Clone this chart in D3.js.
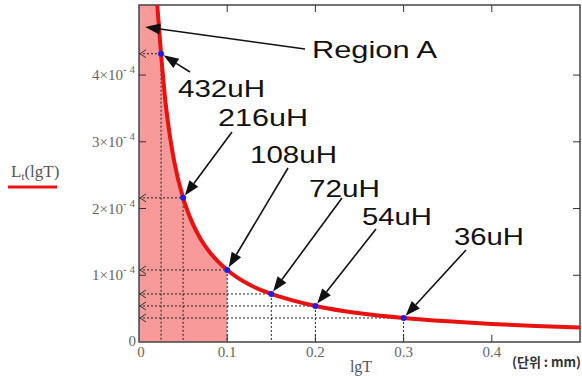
<!DOCTYPE html>
<html>
<head>
<meta charset="utf-8">
<script src="https://d3js.org/d3.v7.min.js"></script>
<style>
  body { margin: 0; background: #fff; }
  .ann { font-family: "Liberation Sans", Arial, sans-serif; font-size: 24px; fill: #111; }
  .tick-lbl { font-family: "Liberation Serif", serif; font-size: 15px; fill: #666; }
</style>
</head>
<body>
<svg width="582" height="380"></svg>
<script>
// curve L_t(lgT)
var curveT = [0.0207, 0.025, 0.03, 0.035, 0.04, 0.05, 0.06, 0.07, 0.08, 0.09, 0.1, 0.125, 0.15, 0.175, 0.2, 0.25, 0.3, 0.35, 0.4, 0.45, 0.5];
var curveL = [5.2e-4, 4.32e-4, 3.6e-4, 3.09e-4, 2.7e-4, 2.16e-4, 1.8e-4, 1.54e-4, 1.35e-4, 1.2e-4, 1.08e-4, 0.86e-4, 0.72e-4, 0.62e-4, 0.54e-4, 0.43e-4, 0.36e-4, 0.31e-4, 0.27e-4, 0.24e-4, 0.216e-4];
// marked points
var pointT = [0.025, 0.05, 0.1, 0.15, 0.2, 0.3];
var pointL = [4.32e-4, 2.16e-4, 1.08e-4, 0.72e-4, 0.54e-4, 0.36e-4];
var pointLabels = ["432uH", "216uH", "108uH", "72uH", "54uH", "36uH"];
var xTicks = [0, 0.1, 0.2, 0.3, 0.4];
var yTicks = [0, 1e-4, 2e-4, 3e-4, 4e-4];
var regionT = [0, 0.1];

var svg = d3.select("svg");
var x = d3.scaleLinear().domain([0, 0.5]).range([139, 580]);
var y = d3.scaleLinear().domain([0, 5.05e-4]).range([342, 5]);
var yTop = y.domain()[1];

var curve = curveT.map(function(t, i) { return [t, curveL[i]]; });
var clipped = [[curveT[0], yTop]].concat(curve.slice(1));

// shaded region A: under the curve from 0 to 0.1
var area = d3.area()
  .x(function(d) { return x(d[0]); })
  .y0(y(0))
  .y1(function(d) { return y(Math.min(d[1], yTop)); })
  .curve(d3.curveMonotoneX);
svg.append("path")
  .datum([[regionT[0], yTop]].concat(clipped.filter(function(d) { return d[0] <= regionT[1]; })))
  .attr("d", area)
  .attr("fill", "#f89a9a");

// guide lines
var g = svg.append("g");
pointT.forEach(function(t, i) {
  var px = x(t), py = y(pointL[i]);
  g.append("line").attr("x1", px).attr("x2", px).attr("y1", py).attr("y2", y(0))
    .attr("stroke", "#222").attr("stroke-width", 1).attr("stroke-dasharray", "2,2");
  g.append("line").attr("x1", x(0)).attr("x2", px).attr("y1", py).attr("y2", py)
    .attr("stroke", "#222").attr("stroke-width", 1).attr("stroke-dasharray", "2,2");
  g.append("path").attr("d", "M" + (x(0) + 7) + "," + (py - 4) + "L" + (x(0) + 1) + "," + py + "L" + (x(0) + 7) + "," + (py + 4))
    .attr("fill", "none").attr("stroke", "#333").attr("stroke-width", 1);
});

// frame
svg.append("rect").attr("x", x(0)).attr("y", y(yTop)).attr("width", x(0.5) - x(0)).attr("height", y(0) - y(yTop))
  .attr("fill", "none").attr("stroke", "#444").attr("stroke-width", 1.5);

// ticks (inward on all sides)
xTicks.slice(1).forEach(function(t) {
  svg.append("line").attr("x1", x(t)).attr("x2", x(t)).attr("y1", y(0)).attr("y2", y(0) - 7).attr("stroke", "#333");
  svg.append("line").attr("x1", x(t)).attr("x2", x(t)).attr("y1", y(yTop)).attr("y2", y(yTop) + 7).attr("stroke", "#333");
});
yTicks.slice(1).forEach(function(v) {
  svg.append("line").attr("x1", x(0)).attr("x2", x(0) + 7).attr("y1", y(v)).attr("y2", y(v)).attr("stroke", "#333");
  svg.append("line").attr("x1", x(0.5)).attr("x2", x(0.5) - 7).attr("y1", y(v)).attr("y2", y(v)).attr("stroke", "#333");
});

// tick labels
xTicks.forEach(function(t) {
  svg.append("text").attr("class", "tick-lbl").attr("x", x(t) + (t === 0 ? 2 : 0)).attr("y", 357)
    .attr("text-anchor", "middle").text(t === 0 ? "0" : String(t));
});
yTicks.forEach(function(v) {
  var tx = svg.append("text").attr("class", "tick-lbl").attr("y", y(v) + 5).attr("text-anchor", "end");
  if (v === 0) {
    tx.attr("x", 136).attr("y", y(0) + 4).text("0");
  } else {
    tx.attr("x", 135);
    tx.append("tspan").text(Math.round(v * 1e4) + "\u00d710");
    tx.append("tspan").attr("dy", -7).attr("font-size", 11).text("- 4");
  }
});

// curve
var line = d3.line().x(function(d) { return x(d[0]); }).y(function(d) { return y(d[1]); })
  .curve(d3.curveMonotoneX);
svg.append("path").datum(clipped)
  .attr("d", line).attr("fill", "none").attr("stroke", "#e8120e").attr("stroke-width", 4);

// points
svg.selectAll("circle.pt").data(pointT).enter().append("circle")
  .attr("cx", function(d) { return x(d); })
  .attr("cy", function(d, i) { return y(pointL[i]); })
  .attr("r", 3).attr("fill", "#1d1df0");

// annotations
function arrow(x1, y1, x2, y2) {
  var a = Math.atan2(y2 - y1, x2 - x1), len = 15, w = 5.5;
  var bx = x2 - len * Math.cos(a), by = y2 - len * Math.sin(a);
  svg.append("line").attr("x1", x1).attr("y1", y1).attr("x2", bx).attr("y2", by)
    .attr("stroke", "#111").attr("stroke-width", 1.6);
  svg.append("path").attr("d", "M" + x2 + "," + y2 +
      "L" + (bx + w * Math.sin(a)) + "," + (by - w * Math.cos(a)) +
      "L" + (bx - w * Math.sin(a)) + "," + (by + w * Math.cos(a)) + "Z")
    .attr("fill", "#111");
}
var labelPos = [[178, 97, 87, 190, 72], [218, 126, 90, 232, 132], [250, 163, 87, 288, 168],
  [309, 197, 71, 342, 198], [362, 225, 70, 376, 229], [454, 245, 70, 466, 250]];
pointT.forEach(function(t, i) {
  var p = labelPos[i];
  var px = x(t), py = y(pointL[i]);
  var a = Math.atan2(py - p[4], px - p[3]);
  arrow(p[3], p[4], px - 3 * Math.cos(a), py - 3 * Math.sin(a));
  svg.append("text").attr("class", "ann").attr("x", p[0]).attr("y", p[1])
    .attr("textLength", p[2]).attr("lengthAdjust", "spacingAndGlyphs").text(pointLabels[i]);
});
arrow(305, 49, x(0.007), y(4.72e-4));
svg.append("text").attr("class", "ann").attr("x", 312).attr("y", 58)
  .attr("textLength", 125).attr("lengthAdjust", "spacingAndGlyphs").text("Region A");

// axis titles
var yl = svg.append("text").attr("x", 11).attr("y", 177)
  .attr("font-family", "Liberation Serif, serif").attr("font-size", 17).attr("fill", "#555");
yl.append("tspan").text("L");
yl.append("tspan").attr("dy", 3).attr("font-size", 11).text("t");
yl.append("tspan").attr("dy", -3).text("(lgT)");
svg.append("line").attr("x1", 8).attr("x2", 57).attr("y1", 187).attr("y2", 187)
  .attr("stroke", "#e8120e").attr("stroke-width", 3);
svg.append("text").attr("x", 361).attr("y", 372).attr("text-anchor", "middle")
  .attr("font-family", "Liberation Serif, serif").attr("font-size", 16).attr("fill", "#555").text("lgT");
svg.append("text").attr("x", 581).attr("y", 367).attr("text-anchor", "end")
  .attr("font-family", "Noto Sans CJK KR, sans-serif").attr("font-weight", "bold").attr("font-size", 13)
  .attr("fill", "#333").text("(단위 : mm)");
</script>
</body>
</html>
